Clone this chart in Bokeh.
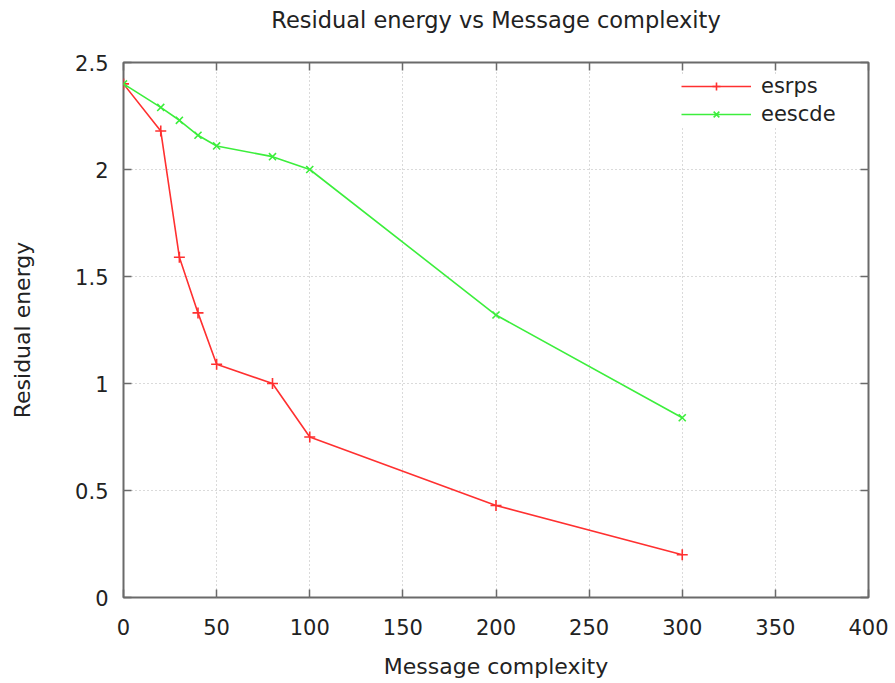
from bokeh.plotting import figure
from bokeh.models import LinearAxis, Legend, LegendItem, FixedTicker, Range1d
from bokeh.embed import file_html
from bokeh.resources import INLINE

# ---- data ----
message_complexity = [0, 20, 30, 40, 50, 80, 100, 200, 300]
esrps = [2.40, 2.18, 1.59, 1.33, 1.09, 1.00, 0.75, 0.43, 0.20]
eescde = [2.40, 2.29, 2.23, 2.16, 2.11, 2.06, 2.00, 1.32, 0.84]
x_ticks = [0, 50, 100, 150, 200, 250, 300, 350, 400]
y_ticks = [0, 0.5, 1, 1.5, 2, 2.5]
y_tick_labels = {0: "0", 0.5: "0.5", 1: "1", 1.5: "1.5", 2: "2", 2.5: "2.5"}
title_text = "Residual energy vs Message complexity"

FONT = "DejaVu Sans"
FRAME = "#6a6a6a"
RED = "#ff3030"
GREEN = "#3cee3c"

p = figure(width=895, height=683, output_backend="svg", toolbar_location=None,
           x_range=Range1d(0, 400), y_range=Range1d(0, 2.5),
           x_axis_location=None, y_axis_location=None,
           min_border_left=123, min_border_right=27, min_border_top=62, min_border_bottom=86)

p.background_fill_color = "white"
p.border_fill_color = "white"
p.outline_line_color = FRAME
p.outline_line_width = 2

def style_axis(ax):
    ax.axis_line_color = None
    ax.major_tick_in = 8
    ax.major_tick_out = 0
    ax.major_tick_line_color = FRAME
    ax.major_tick_line_width = 1.5
    ax.minor_tick_line_color = None
    ax.major_label_text_font = FONT
    ax.major_label_text_font_size = "21px"
    ax.major_label_text_color = "#222222"
    ax.axis_label_text_font = FONT
    ax.axis_label_text_font_size = "22px"
    ax.axis_label_text_font_style = "normal"
    ax.axis_label_text_color = "#222222"

xb = LinearAxis(ticker=FixedTicker(ticks=x_ticks), axis_label="Message complexity")
style_axis(xb)
xb.major_label_standoff = 21
xb.axis_label_standoff = 16
p.add_layout(xb, "below")

yl = LinearAxis(ticker=FixedTicker(ticks=y_ticks), axis_label="Residual energy")
style_axis(yl)
yl.major_label_overrides = y_tick_labels
yl.major_label_standoff = 15
yl.axis_label_standoff = 37
p.add_layout(yl, "left")

# mirrored tick marks on the top edge; its axis label serves as the chart title
xt = LinearAxis(ticker=FixedTicker(ticks=x_ticks), axis_label=title_text)
style_axis(xt)
xt.major_label_overrides = {t: "" for t in x_ticks}
xt.major_label_standoff = 0
xt.axis_label_standoff = 30
xt.axis_label_text_font_size = "22.5px"
p.add_layout(xt, "above")

# mirrored tick marks on the right edge (no labels)
yr = LinearAxis(ticker=FixedTicker(ticks=y_ticks))
style_axis(yr)
yr.major_label_overrides = {t: "" for t in y_ticks}
yr.major_label_standoff = 0
p.add_layout(yr, "right")

p.xgrid.ticker = FixedTicker(ticks=x_ticks)
p.ygrid.ticker = FixedTicker(ticks=y_ticks)
for g in (p.xgrid, p.ygrid):
    g.grid_line_color = "#b4b4b4"
    g.grid_line_dash = "1 3"
    g.grid_line_width = 1

l1 = p.line(message_complexity, esrps, line_color=RED, line_width=1.6)
m1 = p.scatter(message_complexity, esrps, marker="cross", size=11, line_color=RED, line_width=1.6)
l2 = p.line(message_complexity, eescde, line_color=GREEN, line_width=1.6)
m2 = p.scatter(message_complexity, eescde, marker="x", size=10, line_color=GREEN, line_width=1.6)

legend = Legend(items=[LegendItem(label="esrps", renderers=[l1, m1]),
                       LegendItem(label="eescde", renderers=[l2, m2])],
                location=(558, 471), border_line_color=None,
                background_fill_color="white", background_fill_alpha=1.0,
                label_text_font=FONT, label_text_font_size="21px", label_text_color="#222222",
                glyph_width=70, glyph_height=20, spacing=4, padding=6, margin=0,
                label_standoff=10)
p.add_layout(legend, "center")

open("out.html", "w").write(file_html(p, INLINE))
